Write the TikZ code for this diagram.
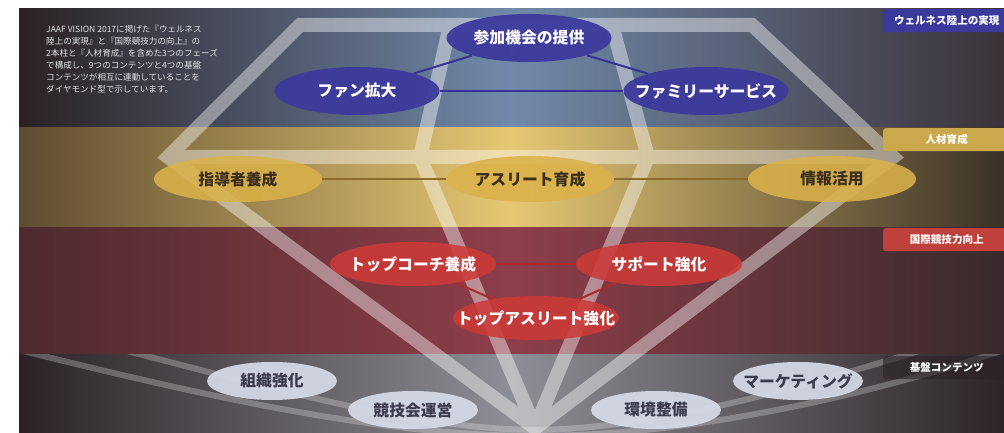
\documentclass[tikz,border=0pt]{standalone}
\usepackage{fontspec}
\setmainfont{Noto Sans CJK JP}
\usetikzlibrary{shapes.geometric}

\definecolor{topL}{HTML}{2A2124}
\definecolor{topM}{HTML}{7189AA}
\definecolor{topR}{HTML}{3B3238}
\definecolor{goldL}{HTML}{5E4C30}
\definecolor{goldM}{HTML}{E6C874}
\definecolor{goldR}{HTML}{3A3026}
\definecolor{redL}{HTML}{4E2A2E}
\definecolor{redM}{HTML}{8E3E4A}
\definecolor{redR}{HTML}{382A2C}
\definecolor{baseL}{HTML}{2A2226}
\definecolor{baseM}{HTML}{8E8E96}
\definecolor{baseR}{HTML}{2C2428}
\definecolor{ellblue}{HTML}{3D3A9C}
\definecolor{ellgold}{HTML}{DBB24A}
\definecolor{ellred}{HTML}{CC3A37}
\definecolor{ellbase}{HTML}{D6DBE8}
\definecolor{txtgold}{HTML}{3B2F1C}
\definecolor{txtbase}{HTML}{3C3C4C}
\definecolor{lineblue}{HTML}{35339A}
\definecolor{linegold}{HTML}{8C6C2C}
\definecolor{linered}{HTML}{B02A2A}
\definecolor{tagblue}{HTML}{3B3A9C}
\definecolor{taggold}{HTML}{CBA84C}
\definecolor{tagred}{HTML}{C0413C}
\definecolor{tagdark}{HTML}{2A2226}
\definecolor{introtxt}{HTML}{E4E4E8}

\newcommand{\ctr}[1]{\makebox[0pt]{#1}}

\tikzset{
    ellbasic/.style={ellipse, inner sep=0pt, text opacity=1, font=\bfseries\fontsize{13.5}{13.5}\selectfont},
    bluenode/.style={ellbasic, fill=ellblue, fill opacity=0.95, text=white, minimum width=4.95cm, minimum height=1.44cm},
    goldnode/.style={ellbasic, fill=ellgold, fill opacity=0.87, text=txtgold, minimum width=5.04cm, minimum height=1.38cm},
    rednode/.style={ellbasic, fill=ellred, fill opacity=0.88, text=white, minimum width=4.98cm, minimum height=1.32cm},
    basenode/.style={ellbasic, fill=ellbase, fill opacity=0.93, text=txtbase, minimum width=3.9cm, minimum height=1.14cm},
    blueline/.style={draw=lineblue, line width=0.06cm},
    goldline/.style={draw=linegold, line width=0.06cm},
    redline/.style={draw=linered, line width=0.06cm},
    facet/.style={draw=white, draw opacity=0.42, line width=0.42cm, line join=miter},
    swoosh/.style={draw=white, draw opacity=0.25, line width=0.18cm},
    tagbox/.style={anchor=north west, inner sep=0pt, rounded corners=2pt, text=white, text opacity=1,
        minimum width=3.81cm, minimum height=0.69cm, font=\bfseries\fontsize{9}{9}\selectfont},
    intro/.style={anchor=north west, align=left, inner sep=0pt, text=introtxt, font=\fontsize{7.3}{10.2}\selectfont}
}

\begin{document}
\begin{tikzpicture}[x=0.03cm, y=-0.03cm]
        \useasboundingbox (0,0) rectangle (1004,433);
        % background bands
        \shade[left color=topL, right color=topR, middle color=topM] (19,9) rectangle (1004,128);
        \shade[left color=goldL, right color=goldR, middle color=goldM] (19,128) rectangle (1004,228);
        \shade[left color=redL, right color=redR, middle color=redM] (19,228) rectangle (1004,355);
        \shade[left color=baseL, right color=baseR, middle color=baseM] (19,355) rectangle (1004,433);

        % arcs under the base contents
        \begin{scope}
            \clip (19,355) rectangle (1004,433);
            \draw[swoosh] (19,325) .. controls (200,365) and (380,428) .. (535,430) .. controls (690,428) and (870,365) .. (1004,325);
            \draw[swoosh] (19,350) .. controls (200,395) and (380,436) .. (535,436) .. controls (690,436) and (870,395) .. (1004,350);
        \end{scope}

        % diamond
        \draw[facet] (300,25) -- (752,25) -- (893,157) -- (535,428) -- (168,157) -- cycle
            (168,157) -- (893,157)
            (450,25) -- (420,157) -- (535,428) -- (648,157) -- (612,25);

        % wellness
        \node[bluenode] (sanka) at (529,38) {\ctr{参加機会の提供}};
        \node[bluenode] (fan) at (357,91) {\ctr{ファン拡大}};
        \node[bluenode] (family) at (706,91) {\ctr{ファミリーサービス}};
        % jinzai
        \node[goldnode] (shidou) at (238,179) {\ctr{指導者養成}};
        \node[goldnode] (athlete) at (530,179) {\ctr{アスリート育成}};
        \node[goldnode] (jouhou) at (832,179) {\ctr{情報活用}};
        % kokusai
        \node[rednode] (topcoach) at (413,264) {\ctr{トップコーチ養成}};
        \node[rednode] (support) at (659,264) {\ctr{サポート強化}};
        \node[rednode] (topathlete) at (536,318) {\ctr{トップアスリート強化}};
        % base
        \node[basenode] (soshiki) at (272,381) {\ctr{組織強化}};
        \node[basenode] (kyougi) at (413,410) {\ctr{競技会運営}};
        \node[basenode] (kankyou) at (656,410) {\ctr{環境整備}};
        \node[basenode] (marketing) at (798,381) {\ctr{マーケティング}};

        \draw[blueline] (sanka) -- (fan);
        \draw[blueline] (sanka) -- (family);
        \draw[blueline] (fan) -- (family);
        \draw[goldline] (shidou) -- (athlete);
        \draw[goldline] (athlete) -- (jouhou);
        \draw[redline] (topcoach) -- (support);
        \draw[redline] (topcoach) -- (topathlete);
        \draw[redline] (support) -- (topathlete);

        % phase tags
        \node[tagbox, fill=tagblue] (wellness) at (883,9) {ウェルネス陸上の実現};
        \node[tagbox, fill=taggold] (jinzai) at (883,128) {人材育成};
        \node[tagbox, fill=tagred] (kokusai) at (883,228) {国際競技力向上};
        \node[tagbox, fill=tagdark, fill opacity=0.6] (kiban) at (883,356) {基盤コンテンツ};

        \node[intro] (lead) at (46,25) {JAAF VISION 2017に掲げた『ウェルネス\\
            陸上の実現』と『国際競技力の向上』の\\
            2本柱と『人材育成』を含めた3つのフェーズ\\
            で構成し、9つのコンテンツと4つの基盤\\
            コンテンツが相互に連動していることを\\
            ダイヤモンド型で示しています。};
    \end{tikzpicture}
\end{document}
